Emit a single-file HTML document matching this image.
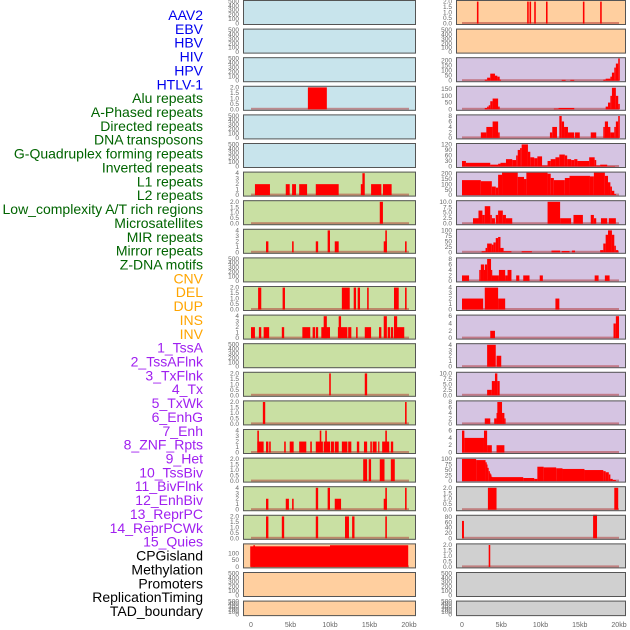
<!DOCTYPE html>
<html><head><meta charset="utf-8"><style>
html,body{margin:0;padding:0;background:#fff;}
svg{display:block;font-family:"Liberation Sans",sans-serif;}
</style></head><body>
<svg id="chart" width="630" height="630" viewBox="0 0 630 630" xmlns="http://www.w3.org/2000/svg"></svg>
<script>
const trackLabels=["AAV2","EBV","HBV","HIV","HPV","HTLV-1","Alu repeats","A-Phased repeats","Directed repeats","DNA transposons","G-Quadruplex forming repeats","Inverted repeats","L1 repeats","L2 repeats","Low_complexity A/T rich regions","Microsatellites","MIR repeats","Mirror repeats","Z-DNA motifs","CNV","DEL","DUP","INS","INV","1_TssA","2_TssAFlnk","3_TxFlnk","4_Tx","5_TxWk","6_EnhG","7_Enh","8_ZNF_Rpts","9_Het","10_TssBiv","11_BivFlnk","12_EnhBiv","13_ReprPC","14_ReprPCWk","15_Quies","CPGisland","Methylation","Promoters","ReplicationTiming","TAD_boundary"];
const labelGroupSizes=[6,13,5,15,5];
const labelColors=["#0000ee","#006400","#ffa500","#a020f0","#000000"];
const xTickValues=[0,5,10,15,20];
const xTickLabels=["0","5kb","10kb","15kb","20kb"];
const E=[0,100,200,300,400,500];
const T2=[0,0.5,1,1.5,2];
const T4=[0,1,2,3,4];
const B="#c8e4ec",G="#c9e0a3",P="#ffcf9f",L="#d5c4e2",Y="#d0d0d0";
// left column (22 panels)
const leftBg=[B,B,B,B,B,B,G,G,G,G,G,G,G,G,G,G,G,G,G,P,P,P];
const leftTicks=[E,E,E,T2,E,E,T4,T2,T4,E,T2,T4,E,T2,T2,T4,T2,T4,T2,[0,50,100],E,E];
const leftYmax=[520,520,520,2.1,520,520,4.2,2.1,4.2,520,2.1,4.2,520,2.1,2.1,4.2,2.1,4.2,2.1,170,520,520];
const leftBars=[[],[],[],[[7.2,9.6,2]],[],[],
[[0.5,2.4,2],[4.4,4.9,2],[5.2,5.7,2],[6.1,7.1,2],[8.2,11.1,2],[13.9,14.3,2],[14.1,14.4,4],[15.2,16.5,2],[16.7,17.8,2]],
[[16.3,16.7,2]],
[[1.9,2.2,2],[5.2,5.4,2],[8.2,8.5,2],[9.7,10,4],[10.6,11.1,2],[16.8,17.2,2],[17,17.2,4],[19.5,19.7,2]],
[],
[[0.9,1.3,2],[4,4.3,2],[11.5,12.5,2],[13,13.3,2],[13.5,13.8,2],[14.7,14.9,2],[18.1,18.7,2],[19.5,19.7,2]],
[[0,0.5,2],[1,1.3,2],[1.6,2.3,2],[3.9,4.2,2],[6.5,7.5,2],[7.8,8.1,2],[8.2,8.5,2],[8.9,10,2],[9.2,9.6,4],[11,12.2,2],[11.1,11.4,4],[12.3,12.7,2],[13.3,13.5,2],[14.4,15.2,2],[16.2,16.5,2],[16.8,17.2,4],[17.3,17.6,2],[17.7,18,2],[18.1,19.4,2],[18.1,18.5,4]],
[],
[[9.9,10.1,2],[14.4,14.7,2]],
[[1.5,1.8,2],[19.5,19.7,2]],
[[0.8,1.6,2],[0.8,1,4],[1.9,2.2,2],[2.3,2.5,2],[4.2,4.4,2],[4.9,5.4,2],[6.1,7,2],[7.5,7.7,2],[8.2,9.1,2],[8.7,8.9,4],[9.2,10,2],[9.4,9.6,4],[10.1,10.5,2],[10.6,11.1,2],[11.5,12.2,2],[12.3,12.7,2],[13.4,13.7,2],[14.3,14.7,2],[15.1,15.3,2],[15.4,15.9,2],[16.1,16.2,2],[16.6,17.5,2],[17,17.2,4],[17.7,18,2]],
[[14.2,14.7,2],[14.9,15.2,2],[16.3,16.9,2],[17.7,18.2,2]],
[[1.9,2.2,2],[4.4,4.8,2],[5.2,5.4,2],[8.2,8.5,4],[9.7,10,4],[10.6,11.4,2],[16.8,17.2,2],[17,17.2,4],[19.5,19.7,4]],
[[1.9,2.2,2],[3.9,4.2,2],[8.2,8.5,2],[11.9,12.4,2],[12.8,13.1,2],[17,17.2,2]],
[[-0.1,10,152],[0.3,0.5,160],[10,19.9,160]],
[],[]];
// right column (22 panels)
const rightBg=[P,P,L,L,L,L,L,L,L,L,L,L,L,L,L,L,L,Y,Y,Y,Y,Y];
const T8=[0,2,4,6,8],T6=[0,2,4,6],T10=[0,2.5,5,7.5,10],T100=[0,25,50,75,100];
const rightTicks=[T2,E,[0,50,100,150,200],[0,50,100,150],T8,[0,30,60,90,120],[0,50,100,150,200],T10,T100,T8,T4,T6,T4,T10,T8,T6,T100,T2,[0,20,40,60,80],T2,E,E];
const rightYmax=[2.1,520,228,171,8.4,125,215,10.5,105,8.4,4.2,6.3,4.2,10.5,8.4,6.3,104,2.1,86,2.1,520,520];
const rightBars=[
[[1.9,2.1,2],[8.3,8.5,2],[8.6,8.8,2],[9.2,9.4,2],[10.7,10.9,2],[15.4,15.6,2],[17.6,17.8,2]],
[],
[[2.9,3.2,10],[3.2,3.6,30],[3.6,4.2,70],[4.2,4.5,50],[4.5,4.8,40],[4.8,4.9,10],[12.7,13.2,8],[13.8,14.3,8],[18,18.3,10],[18.3,18.9,20],[18.9,19.1,40],[19.1,19.4,80],[19.4,19.6,130],[19.6,19.9,170],[19.9,20.1,220]],
[[2.9,3.2,10],[3.2,3.4,20],[3.4,3.6,30],[3.6,3.9,60],[3.9,4.6,80],[4.6,4.8,20],[11.7,12.3,5],[12.3,14.3,10],[18.3,18.6,20],[18.6,18.9,50],[18.9,19.1,100],[19.1,19.6,160],[19.6,19.9,100],[19.9,20.1,40]],
[[2.4,3.1,2],[3.1,3.9,4],[3.9,4.6,6],[4.6,4.8,2],[11.2,11.5,2],[11.5,12.1,4],[12.4,12.7,8],[12.7,13,6],[13,13.5,4],[13.5,14.3,2],[14.4,15,2],[16.4,17.1,2],[18,18.2,4],[18.2,18.6,6],[18.6,18.9,4],[18.9,19.4,2],[19.4,19.6,4],[19.6,19.9,6],[19.9,20.1,8]],
[[0,0.5,30],[0.5,3.6,20],[3.6,4.6,10],[4.6,4.9,15],[4.9,5.6,20],[5.6,6.4,40],[6.4,6.9,35],[6.9,7.1,60],[7.1,7.4,90],[7.4,7.6,100],[7.6,8.4,120],[8.4,8.7,80],[8.7,9.2,50],[9.2,9.6,45],[9.6,10.2,55],[10.2,10.9,5],[10.9,11.3,30],[11.3,11.9,40],[11.9,12.4,50],[12.4,13.1,65],[13.1,13.4,60],[13.4,13.9,40],[13.9,14.3,35],[14.3,14.7,40],[14.7,16.2,30],[16.2,16.9,50],[16.9,17.1,35],[17.1,17.6,5],[17.6,18.5,10],[18.5,19.5,2]],
[[0,2.4,140],[2.4,3.8,130],[3.8,4.3,80],[4.3,4.6,70],[4.6,5.1,190],[5.1,7.1,210],[7.1,7.9,170],[7.9,8.2,150],[8.2,10.9,210],[10.9,11.3,200],[11.3,11.7,160],[11.7,13.1,140],[13.1,13.7,160],[13.7,16.3,180],[16.3,16.8,175],[16.8,18.2,210],[18.2,18.6,180],[18.6,18.9,120],[18.9,19.1,80],[19.1,19.4,40],[19.4,19.6,10]],
[[1.4,2.1,2.5],[2.1,2.6,6],[2.6,2.9,4],[2.9,3.6,8],[3.6,3.8,4],[3.8,4.2,2.5],[4.3,4.6,4],[4.6,5.2,6],[5.2,5.6,4],[5.6,6.4,2.5],[10.9,12.5,10],[12.5,13.9,2.5],[14.2,15.4,4],[16.4,16.8,4],[16.8,17.1,2.5],[17.7,18.5,2.5],[18.7,19.6,2.5]],
[[2.5,3,5],[3,3.2,20],[3.2,3.8,40],[3.8,4,35],[4,4.3,45],[4.3,4.6,65],[4.6,4.9,70],[4.9,5.3,20],[5.3,6.3,5],[7.6,8.9,5],[11.4,12.5,8],[12.7,13.7,6],[14,14.4,8],[17.6,18,10],[18,18.3,40],[18.3,18.6,80],[18.6,19.1,100],[19.1,19.4,80],[19.4,19.6,30],[19.6,19.9,10]],
[[0,0.9,2],[2.2,2.4,4],[2.4,2.8,6],[2.8,2.9,4],[2.9,3.2,6],[3.2,3.7,8],[3.7,3.8,4],[3.8,4.7,2],[4.7,5.5,4],[5.5,5.8,2],[5.8,6.3,4],[6.9,7.3,2],[7.8,8.6,2],[9.9,10.3,2],[16.9,17.4,2],[18.2,18.8,2]],
[[0,2.7,2],[2.9,4.6,4],[4.6,5.5,2],[11.9,12.4,2]],
[[3.6,4.2,2],[19.3,19.6,4],[19.6,20,6]],
[[3.2,4.3,4],[4.4,5,2]],
[[3.2,3.8,2.5],[3.8,4.2,6.5],[4.2,4.5,10],[4.5,4.8,6.5]],
[[2.9,3.6,2],[4.1,4.4,2],[4.4,4.5,4],[4.5,5.1,8],[5.1,5.4,4],[5.4,5.5,2]],
[[0,0.3,6],[0.3,2.8,4],[2.8,3.2,6],[3.2,3.8,2],[4.4,5.4,2]],
[[0,1.8,100],[1.8,3,95],[3,3.1,85],[3.1,3.2,75],[3.2,3.4,60],[3.4,3.5,45],[3.5,3.6,35],[3.6,3.7,30],[3.7,3.8,20],[3.8,7.8,18],[7.8,9.2,14],[9.2,9.6,10],[9.6,10.4,65],[10.4,12,62],[12,12.8,58],[12.8,15.6,55],[15.6,18,50],[18,18.3,45],[18.3,18.7,40],[18.7,18.9,30],[18.9,19.2,10],[19.2,19.6,5]],
[[3.3,4.4,2],[19.4,19.9,2]],
[[0,0.25,65],[16.7,17.2,90]],
[[3.4,3.6,2]],
[],[]];

const svg=document.getElementById('chart');
const NS="http://www.w3.org/2000/svg";
function mk(tag,attrs,parent){const e=document.createElementNS(NS,tag);for(const k in attrs)e.setAttribute(k,attrs[k]);(parent||svg).appendChild(e);return e;}

// labels
let idx=0;
labelGroupSizes.forEach((n,g)=>{for(let j=0;j<n;j++){
  const t=mk('text',{x:203,y:15+idx*13.86+5,'text-anchor':'end','font-size':'14',fill:labelColors[g]});
  
  
  t.textContent=trackLabels[idx];idx++;}});

const cols=[
 {x0:243,x1:416,ox:251,sx:7.9,bg:leftBg,ticks:leftTicks,ymax:leftYmax,bars:leftBars,name:'left'},
 {x0:456,x1:626,ox:462,sx:7.85,bg:rightBg,ticks:rightTicks,ymax:rightYmax,bars:rightBars,name:'right'}];

cols.forEach(c=>{
  const xs=kb=>c.ox+kb*c.sx;
  for(let r=0;r<22;r++){
    const top=r*28.6, h=(r===21)?15.5:25;
    const g=mk('g',{});
    
    
    const clipId='clip-'+c.name+r;
    const cp=mk('clipPath',{id:clipId},g);
    mk('rect',{x:c.x0,y:top,width:c.x1-c.x0,height:h},cp);
    const bg=mk('rect',{x:c.x0,y:top,width:c.x1-c.x0,height:h,fill:c.bg[r]},g);
    
    
    const base=top+h-1.5, ytop=top+0.5;
    const ys=v=>base-(v/c.ymax[r])*(base-ytop);
    const inner=mk('g',{'clip-path':'url(#'+clipId+')'},g);
    const bars=c.bars[r];
    if(bars.length){
      const bl=mk('rect',{x:xs(0),y:base-1.5,width:xs(20)-xs(0),height:2,fill:'#b03030',opacity:0.5},inner);
      
      
    }
    bars.forEach(b=>{
      const y=ys(b[2]);
      const rc=mk('rect',{x:xs(b[0]),y:y,width:Math.max(1.2,xs(b[1])-xs(b[0])),height:base-y,fill:'#ff0000'},inner);
      
      
    });
    const br=mk('rect',{x:c.x0+0.5,y:top+0.5,width:c.x1-c.x0-1,height:h-1,fill:'none',stroke:'#555','stroke-width':1},g);
    
    
    c.ticks[r].forEach(v=>{
      const t=mk('text',{x:c.x0-4,y:ys(v)+2,'text-anchor':'end','font-size':'6.5',fill:'#666'},g);
      
      
      t.textContent=(c.ticks[r]===T2||c.ticks[r]===T10)?v.toFixed(1):String(v);
    });
  }
  xTickValues.forEach((v,i)=>{
    const t=mk('text',{x:xs(v),y:627,'text-anchor':'middle','font-size':'7',fill:'#666'});
    
    
    t.textContent=xTickLabels[i];
  });
});
</script>
</body></html>
